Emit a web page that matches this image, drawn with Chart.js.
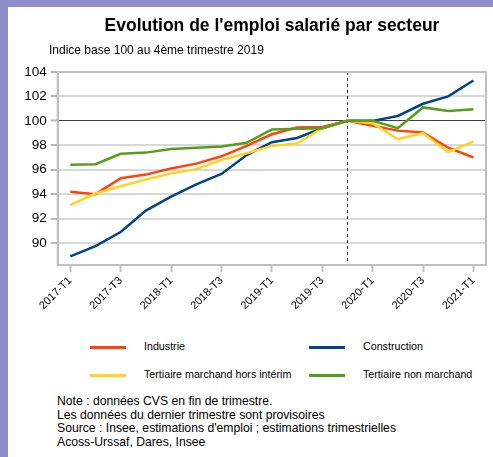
<!DOCTYPE html>
<html>
<head>
<meta charset="utf-8">
<script src="https://cdn.jsdelivr.net/npm/chart.js@4.4.1/dist/chart.umd.min.js"></script>
<style>
  html, body { margin:0; padding:0; }
  body { width:493px; height:457px; background:#8f8fc7; position:relative; overflow:hidden; font-family:"Liberation Sans", Arial, sans-serif; }
  #panel { position:absolute; left:8px; top:7px; right:0; bottom:0; background:#fff; }
  #c { position:absolute; left:0; top:0; }
  .title { position:absolute; left:0; width:544px; top:15px; text-align:center; font-weight:bold; font-size:17.5px; color:#000; white-space:nowrap; }
  .sub { position:absolute; left:49px; top:43px; font-size:12px; color:#000; white-space:nowrap; }
  .leg { position:absolute; font-size:10.7px; color:#000; white-space:nowrap; }
  .legline { position:absolute; width:36px; height:3px; }
  .notes { position:absolute; left:57px; top:395px; font-size:12.2px; line-height:13.5px; color:#000; white-space:nowrap; }
</style>
</head>
<body>
<div id="panel"></div>
<canvas id="c" width="493" height="320"></canvas>
<div class="title">Evolution de l'emploi salarié par secteur</div>
<div class="sub">Indice base 100 au 4ème trimestre 2019</div>
<div id="legend"></div>
<div class="notes">Note : données CVS en fin de trimestre.<br>Les données du dernier trimestre sont provisoires<br>Source : Insee, estimations d'emploi ; estimations trimestrielles<br>Acoss-Urssaf, Dares, Insee</div>
<script>
const categories = ['2017-T1','2017-T2','2017-T3','2017-T4','2018-T1','2018-T2','2018-T3','2018-T4',
  '2019-T1','2019-T2','2019-T3','2019-T4','2020-T1','2020-T2','2020-T3','2020-T4','2021-T1'];
const seriesNames = ['Industrie','Construction','Tertiaire marchand hors intérim','Tertiaire non marchand'];
const industrie     = [94.2, 94.0, 95.3, 95.6, 96.1, 96.5, 97.1, 97.95, 98.9, 99.45, 99.5, 100, 99.6, 99.2, 99.05, 97.8, 97.0];
const construction  = [88.9, 89.75, 90.9, 92.65, 93.8, 94.8, 95.65, 97.2, 98.25, 98.6, 99.4, 100, 100.0, 100.4, 101.4, 102.0, 103.3];
const tertMarchand  = [93.1, 94.05, 94.65, 95.2, 95.7, 96.05, 96.8, 97.35, 97.95, 98.15, 99.4, 100, 99.8, 98.5, 99.0, 97.45, 98.3];
const tertNonMarch  = [96.4, 96.45, 97.3, 97.4, 97.7, 97.8, 97.9, 98.2, 99.3, 99.35, 99.4, 100, 100.0, 99.4, 101.1, 100.8, 100.95];
const yTicks = [90, 92, 94, 96, 98, 100, 102, 104];
const xTickLabels = ['2017-T1','2017-T3','2018-T1','2018-T3','2019-T1','2019-T3','2020-T1','2020-T3','2021-T1'];
const dashedAt = '2019-T4';

const colors = ['#ff420e', '#004586', '#ffd320', '#579d1c'];
const values = [industrie, construction, tertMarchand, tertNonMarch];

const frame = {
  id: 'frame',
  beforeDatasetsDraw(chart) {
    const { ctx, chartArea: a, scales: { x } } = chart;
    ctx.save();
    const px = Math.round(x.getPixelForValue(categories.indexOf(dashedAt))) + 0.5;
    ctx.strokeStyle = '#333';
    ctx.lineWidth = 1;
    ctx.setLineDash([3, 3]);
    ctx.beginPath(); ctx.moveTo(px, a.top); ctx.lineTo(px, a.bottom); ctx.stroke();
    ctx.setLineDash([]);
    ctx.strokeStyle = '#c0c0c0';
    ctx.lineWidth = 2;
    ctx.strokeRect(a.left, a.top, a.right - a.left, a.bottom - a.top);
    ctx.restore();
  }
};

new Chart(document.getElementById('c'), {
  type: 'line',
  data: {
    labels: categories,
    datasets: seriesNames.map((n, i) => ({
      label: n, data: values[i], borderColor: colors[i], backgroundColor: colors[i],
      borderWidth: 2.5, pointRadius: 0, tension: 0, order: 4 - i
    }))
  },
  options: {
    responsive: false, animation: false, devicePixelRatio: 1,
    layout: { padding: { left: 0, right: 7, top: 72, bottom: 0 } },
    plugins: { legend: { display: false }, title: { display: false }, tooltip: { enabled: false } },
    scales: {
      x: {
        offset: true,
        grid: { drawOnChartArea: false, drawTicks: true, tickLength: 7, tickWidth: 2,
                tickColor: c => (xTickLabels.includes(categories[c.index]) ? '#c0c0c0' : 'rgba(0,0,0,0)') },
        border: { display: true, color: '#c0c0c0', width: 2 },
        ticks: { autoSkip: false, minRotation: 45, maxRotation: 45, padding: 2, color: '#000',
                 font: { family: 'Liberation Sans', size: 11 },
                 callback: (v, i) => (xTickLabels.includes(categories[i]) ? categories[i] : '') },
        afterFit: s => { s.height = 55; }
      },
      y: {
        min: 88.2, max: 104,
        afterBuildTicks: s => { s.ticks = yTicks.map(v => ({ value: v })); },
        grid: { color: c => (c.tick && c.tick.value === 100 ? '#404040' : '#d8d8d8'),
                lineWidth: c => (c.tick && c.tick.value === 100 ? 1 : 2),
                tickLength: 7, tickWidth: 2, tickColor: '#b8b8b8' },
        border: { display: true, color: '#c0c0c0', width: 2 },
        ticks: { padding: 4, color: '#000', font: { family: 'Liberation Sans', size: 13.5 } },
        afterFit: s => { s.width = 57.7; }
      }
    }
  },
  plugins: [frame]
});

const legend = document.getElementById('legend');
const legPos = [[90, 144, 347], [309, 363, 347], [90, 144, 375], [309, 363, 375]];
seriesNames.forEach((n, i) => {
  const [lx, tx, y] = legPos[i];
  const l = document.createElement('div');
  l.className = 'legline'; l.style.left = lx + 'px'; l.style.top = (y - 1.5) + 'px'; l.style.background = colors[i];
  legend.appendChild(l);
  const t = document.createElement('div');
  t.className = 'leg'; t.style.left = tx + 'px'; t.style.top = (y - 7) + 'px'; t.textContent = n;
  legend.appendChild(t);
});
</script>
</body>
</html>
